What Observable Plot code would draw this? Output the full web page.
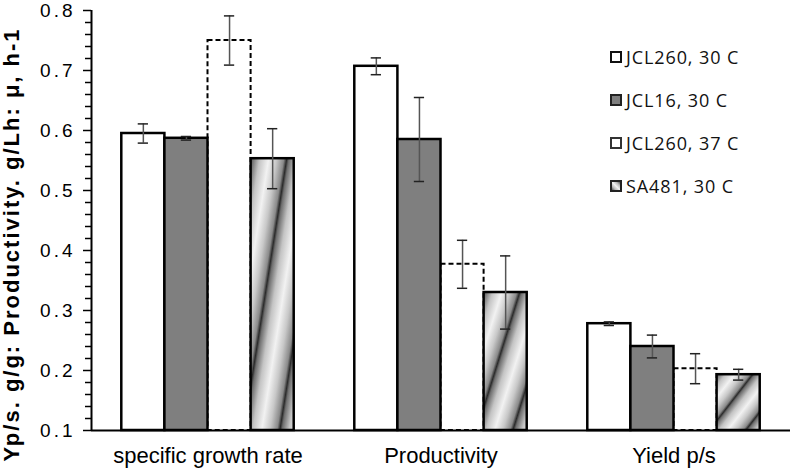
<!DOCTYPE html>
<html>
<head>
<meta charset="utf-8">
<script src="https://cdn.jsdelivr.net/npm/d3@7"></script>
<script src="https://cdn.jsdelivr.net/npm/@observablehq/plot@0.6"></script>
<style>
  html, body { margin: 0; padding: 0; background: #fff; }
  #wrap { position: relative; width: 793px; height: 468px; }
  #legend { position: absolute; left: 610px; top: 35px; font-family: "Open Sans", sans-serif; font-size: 18px; letter-spacing: 0.9px; color: #111; }
  .item { display: flex; align-items: center; height: 43px; }
  .sw { width: 12px; height: 12px; margin-right: 4px; box-sizing: border-box; }
</style>
</head>
<body>
<div id="wrap"></div>
<script>
// ---- data ----
const groups = ["specific growth rate", "Productivity", "Yield p/s"];
const series = ["JCL260, 30 C", "JCL16, 30 C", "JCL260, 37 C", "SA481, 30 C"];
const jcl260_30 = [0.595, 0.707, 0.278];
const jcl16_30  = [0.587, 0.585, 0.240];
const jcl260_37 = [0.750, 0.377, 0.203];
const sa481_30  = [0.553, 0.330, 0.193];
const err_jcl260_30 = [0.016, 0.014, 0.003];
const err_jcl16_30  = [0.003, 0.070, 0.019];
const err_jcl260_37 = [0.041, 0.040, 0.025];
const err_sa481_30  = [0.050, 0.061, 0.009];
const yTicks = [0.1, 0.2, 0.3, 0.4, 0.5, 0.6, 0.7, 0.8];
const yLabel = "Yp/s. g/g: Productivity. g/Lh: \u03bc, h-1";

const values = [jcl260_30, jcl16_30, jcl260_37, sa481_30];
const errors = [err_jcl260_30, err_jcl16_30, err_jcl260_37, err_sa481_30];
const fills = ["white", "#7f7f7f", "white", "url(#hatch)"];

const barW = 0.185;
const rows = [];
series.forEach((s, si) => groups.forEach((g, gi) => {
  const x1 = gi - 2 * barW + si * barW;
  rows.push({series: s, si, gi, x1, x2: x1 + barW, xc: x1 + barW / 2, v: values[si][gi], e: errors[si][gi]});
}));
const minor = d3.range(10, 81, 2).filter(d => d % 10 !== 0).map(d => d / 100);
const capHalf = 0.022;

const solid = rows.filter(d => d.si !== 2);
const dashed = rows.filter(d => d.si === 2);

const plot = Plot.plot({
  width: 793,
  height: 468,
  marginLeft: 91,
  marginRight: 3,
  marginTop: 10,
  marginBottom: 38,
  style: {fontFamily: "'Liberation Sans', Arial, sans-serif", background: "white", color: "black", overflow: "visible"},
  x: {domain: [-0.5, 2.5]},
  y: {domain: [0.1, 0.8]},
  marks: [
    Plot.axisY({ticks: minor, tickSize: 6, tickFormat: () => "", strokeWidth: 1.5, label: null}),
    Plot.axisY({ticks: yTicks, tickSize: 8, tickPadding: 8, tickFormat: d3.format(".1f"), fontSize: 19, strokeWidth: 1.5, label: null}),
    Plot.axisX({ticks: [0, 1, 2], tickSize: 0, tickPadding: 17, tickFormat: i => groups[i], fontSize: 22, label: null}),
    Plot.text([yLabel], {frameAnchor: "left", textAnchor: "middle", rotate: -90, dx: -80, dy: 24, fontSize: 22, fontWeight: "bold", fill: "black"}),
    Plot.rectY(dashed, {x1: "x1", x2: "x2", y1: 0.1, y2: "v", fill: "white", stroke: "black", strokeWidth: 2, strokeDasharray: "5,3"}),
    Plot.rectY(solid, {x1: "x1", x2: "x2", y1: 0.1, y2: "v", fill: d => fills[d.si], stroke: "black", strokeWidth: 2.5}),
    Plot.ruleX(rows, {x: "xc", y1: d => d.v - d.e, y2: d => d.v + d.e, stroke: "#555", strokeWidth: 1.5}),
    Plot.ruleY(rows, {y: d => d.v + d.e, x1: d => d.xc - capHalf, x2: d => d.xc + capHalf, stroke: "#222", strokeWidth: 1.5}),
    Plot.ruleY(rows, {y: d => d.v - d.e, x1: d => d.xc - capHalf, x2: d => d.xc + capHalf, stroke: "#222", strokeWidth: 1.5}),
    Plot.ruleX([-0.5], {y1: 0.1, y2: 0.8, stroke: "black", strokeWidth: 2}),
    Plot.ruleY([0.1], {stroke: "black", strokeWidth: 2})
  ]
});

// stretched diagonal texture (scales with each bar, like the original's stretched fill)
const ns = "http://www.w3.org/2000/svg";
const defs = document.createElementNS(ns, "defs");
defs.innerHTML = `
  <linearGradient id="hatch" x1="0" y1="0" x2="0.42" y2="0.42" spreadMethod="repeat">
    <stop offset="0" stop-color="#2a2a2a"/>
    <stop offset="0.06" stop-color="#6e6e6e"/>
    <stop offset="0.25" stop-color="#c4c4c4"/>
    <stop offset="0.5" stop-color="#f2f2f2"/>
    <stop offset="0.72" stop-color="#c8c8c8"/>
    <stop offset="0.92" stop-color="#8a8a8a"/>
    <stop offset="1" stop-color="#2a2a2a"/>
  </linearGradient>`;
plot.insertBefore(defs, plot.firstChild);

// typographic adjustments
d3.select(plot).selectAll("text").filter(function() { return this.textContent === yLabel; })
  .style("letter-spacing", "2px");
d3.select(plot).selectAll('g[aria-label="y-axis tick label"] text')
  .style("letter-spacing", "3px");

const wrap = document.getElementById("wrap");
wrap.appendChild(plot);

// legend
const legend = document.createElement("div");
legend.id = "legend";
const swStyles = [
  "background:#fff;border:2px solid #111;",
  "background:#7f7f7f;border:2px solid #222;",
  "background:#fff;border:2px dashed #333;",
  "background:linear-gradient(45deg,#555 0%,#bbb 25%,#f2f2f2 50%,#bbb 75%,#555 100%);border:2px solid #222;"
];
series.forEach((s, i) => {
  const it = document.createElement("div");
  it.className = "item";
  const sw = document.createElement("div");
  sw.className = "sw";
  sw.style.cssText = swStyles[i];
  const t = document.createElement("span");
  t.textContent = s;
  it.appendChild(sw);
  it.appendChild(t);
  legend.appendChild(it);
});
wrap.appendChild(legend);
</script>
</body>
</html>
